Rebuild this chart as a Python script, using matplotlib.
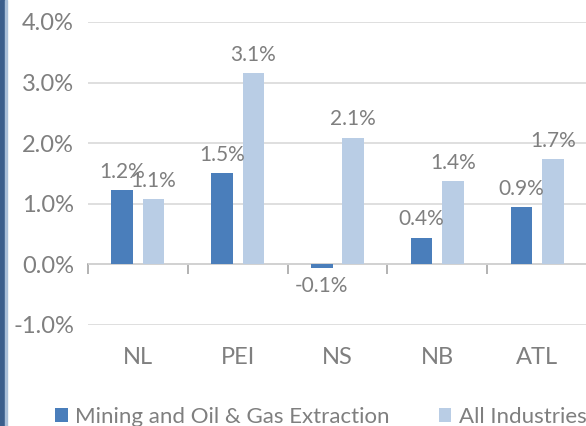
import matplotlib
matplotlib.use('Agg')
import matplotlib.pyplot as plt
from matplotlib.patches import Rectangle
import numpy as np

categories = ['NL', 'PEI', 'NS', 'NB', 'ATL']
mining = [1.22, 1.51, -0.06, 0.44, 0.94]          # Mining and Oil & Gas Extraction
all_ind = [1.08, 3.15, 2.09, 1.37, 1.74]          # All Industries
series_names = ['Mining and Oil & Gas Extraction', 'All Industries']
yticks = [-1, 0, 1, 2, 3, 4]

dark = '#4a7ebb'
light = '#b9cde5'
grey = '#7f7f7f'

plt.rcParams['font.family'] = ['Lato', 'DejaVu Sans']

fig = plt.figure(figsize=(5.86, 4.26), dpi=100)
ax = fig.add_axes([0.150, 0.2371, 0.8517, 0.7113])

x = np.arange(len(categories))
w = 0.216
b1 = ax.bar(x - 0.157, mining, w, color=dark, label=series_names[0], zorder=3)
b2 = ax.bar(x + 0.157, all_ind, w, color=light, label=series_names[1], zorder=3)

fs = 15
ax.bar_label(b1, labels=['%.1f%%' % v for v in mining], padding=6, color=grey, fontsize=fs)
ax.bar_label(b2, labels=['%.1f%%' % v for v in all_ind], padding=6, color=grey, fontsize=fs)

ax.set_xlim(-0.5, len(categories) - 0.5)
ax.set_ylim(-1, 4)
ax.set_yticks(yticks)
ax.set_yticklabels(['%.1f%%' % t for t in yticks])
ax.grid(axis='y', color='#d9d9d9', linewidth=1.2, zorder=0)
for s in ax.spines.values():
    s.set_visible(False)
ax.tick_params(axis='y', length=0, pad=10, labelsize=17, labelcolor=grey)
ax.set_xticks(x)
ax.set_xticklabels(categories)
ax.tick_params(axis='x', length=0, pad=16, labelsize=17, labelcolor=grey)

# category axis line at zero with boundary ticks
sec = ax.secondary_xaxis(0.2)
sec.set_xticks(np.arange(len(categories) + 1) - 0.5)
sec.set_xticklabels([])
sec.tick_params(axis='x', length=7, width=1.2, color='#a6a6a6')
sec.spines['bottom'].set_color('#a6a6a6')
sec.spines['bottom'].set_linewidth(1.2)

leg = fig.legend(loc='lower left', bbox_to_anchor=(0.06, -0.049), ncol=2, frameon=False,
                 fontsize=16, handlelength=0.58, handleheight=0.58, handletextpad=0.32,
                 columnspacing=2.2)
for t in leg.get_texts():
    t.set_color(grey)

# dark strip on the left edge
fig.patches.append(Rectangle((0, 0), 5 / 586, 1, transform=fig.transFigure,
                             color='#3b5e8c', zorder=5))
fig.patches.append(Rectangle((5 / 586, 0), 1.5 / 586, 1, transform=fig.transFigure,
                             color='#a9bfd9', zorder=5))

fig.savefig('out.png', dpi=100)
